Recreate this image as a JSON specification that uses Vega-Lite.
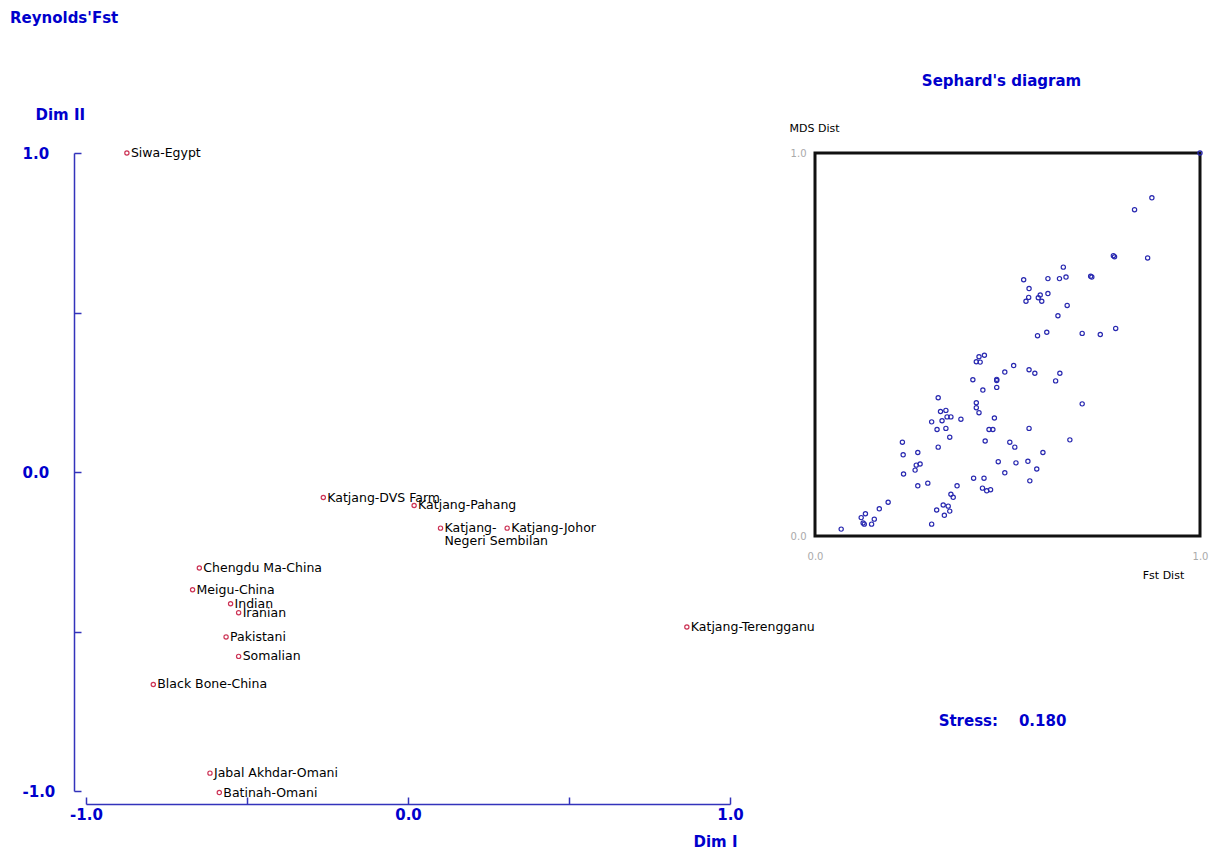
{
  "$schema": "https://vega.github.io/schema/vega-lite/v6.json",
  "background": "white",
  "padding": {"left": 10, "top": 10, "right": 0, "bottom": 0},
  "title": {
    "text": "Reynolds'Fst",
    "anchor": "start",
    "dx": -12,
    "offset": 47,
    "font": "DejaVu Sans",
    "fontSize": 15,
    "fontWeight": "bold",
    "color": "#0000CC"
  },
  "bounds": "flush",
  "spacing": 85,
  "config": {"view": {"stroke": null}},
  "hconcat": [
    {
      "width": 644,
      "height": 638,
      "data": {
        "values": [
          {"pop": "Siwa-Egypt", "dim1": -0.873, "dim2": 1.0},
          {"pop": "Katjang-DVS Farm", "dim1": -0.263, "dim2": -0.080},
          {"pop": "Katjang-Pahang", "dim1": 0.019, "dim2": -0.105},
          {"pop": "Katjang-\nNegeri Sembilan", "dim1": 0.101, "dim2": -0.176},
          {"pop": "Katjang-Johor", "dim1": 0.308, "dim2": -0.176},
          {"pop": "Katjang-Terengganu", "dim1": 0.866, "dim2": -0.486},
          {"pop": "Chengdu Ma-China", "dim1": -0.648, "dim2": -0.301},
          {"pop": "Meigu-China", "dim1": -0.669, "dim2": -0.369},
          {"pop": "Indian", "dim1": -0.551, "dim2": -0.413},
          {"pop": "Iranian", "dim1": -0.526, "dim2": -0.441},
          {"pop": "Pakistani", "dim1": -0.565, "dim2": -0.517},
          {"pop": "Somalian", "dim1": -0.526, "dim2": -0.578},
          {"pop": "Black Bone-China", "dim1": -0.791, "dim2": -0.666},
          {"pop": "Jabal Akhdar-Omani", "dim1": -0.615, "dim2": -0.944},
          {"pop": "Batinah-Omani", "dim1": -0.586, "dim2": -1.005}
        ]
      },
      "encoding": {
        "x": {
          "field": "dim1",
          "type": "quantitative",
          "scale": {"domain": [-1, 1], "nice": false, "zero": false},
          "axis": {
            "values": [-1, -0.5, 0, 0.5, 1],
            "labelExpr": "datum.value == 1 ? '1.0' : datum.value == 0 ? '0.0' : datum.value == -1 ? '-1.0' : ''",
            "grid": false,
            "offset": 13,
            "tickSize": -7,
            "tickWidth": 1.5,
            "tickColor": "#3333BB",
            "domainColor": "#3333BB",
            "domainWidth": 1.5,
            "labelFlush": false,
            "labelOverlap": false,
            "labelFont": "DejaVu Sans",
            "labelFontSize": 15,
            "labelFontWeight": "bold",
            "labelColor": "#0000CC",
            "labelBaseline": "top",
            "labelPadding": 10,
            "title": "Dim I",
            "titleX": 629,
            "titleY": 37,
            "titleAlign": "center",
            "titleBaseline": "middle",
            "titleFont": "DejaVu Sans",
            "titleFontSize": 15,
            "titleFontWeight": "bold",
            "titleColor": "#0000CC"
          }
        },
        "y": {
          "field": "dim2",
          "type": "quantitative",
          "scale": {"domain": [-1, 1], "nice": false, "zero": false},
          "axis": {
            "values": [-1, -0.5, 0, 0.5, 1],
            "labelExpr": "datum.value == 1 ? '1.0' : datum.value == 0 ? '0.0' : datum.value == -1 ? '-1.0' : ''",
            "grid": false,
            "offset": 12,
            "tickSize": -7,
            "tickWidth": 1.5,
            "tickColor": "#3333BB",
            "domainColor": "#3333BB",
            "domainWidth": 1.5,
            "labelFlush": false,
            "labelOverlap": false,
            "labelFont": "DejaVu Sans",
            "labelFontSize": 15,
            "labelFontWeight": "bold",
            "labelColor": "#0000CC",
            "labelAlign": "left",
            "labelBaseline": "middle",
            "labelPadding": 59,
            "title": "Dim II",
            "titleAngle": 0,
            "titleX": -39,
            "titleY": -39,
            "titleAlign": "left",
            "titleBaseline": "middle",
            "titleFont": "DejaVu Sans",
            "titleFontSize": 15,
            "titleFontWeight": "bold",
            "titleColor": "#0000CC"
          }
        }
      },
      "layer": [
        {
          "mark": {"type": "point", "shape": "circle", "filled": false, "color": "#CC3355", "size": 18, "strokeWidth": 1.2, "opacity": 1}
        },
        {
          "mark": {"type": "text", "align": "left", "baseline": "middle", "dx": 4, "font": "DejaVu Sans", "fontSize": 12.5, "color": "black", "lineBreak": "\n", "lineHeight": 13},
          "encoding": {"text": {"field": "pop"}}
        }
      ]
    },
    {
      "width": 385,
      "height": 383,
      "view": {"stroke": "#111111", "strokeWidth": 3},
      "title": {
        "text": "Sephard's diagram",
        "frame": "group",
        "anchor": "middle",
        "dx": -6,
        "offset": 33,
        "font": "DejaVu Sans",
        "fontSize": 15,
        "fontWeight": "bold",
        "color": "#0000CC"
      },
      "layer": [
        {
          "data": {
            "values": [
              {"fst": 0.875, "mds": 0.883}, {"fst": 0.830, "mds": 0.852}, {"fst": 0.775, "mds": 0.732},
              {"fst": 0.778, "mds": 0.729}, {"fst": 0.864, "mds": 0.726}, {"fst": 0.645, "mds": 0.702},
              {"fst": 0.542, "mds": 0.669}, {"fst": 0.605, "mds": 0.672}, {"fst": 0.635, "mds": 0.672},
              {"fst": 0.652, "mds": 0.676}, {"fst": 0.716, "mds": 0.678}, {"fst": 0.719, "mds": 0.676},
              {"fst": 0.556, "mds": 0.646}, {"fst": 0.555, "mds": 0.623}, {"fst": 0.548, "mds": 0.613},
              {"fst": 0.580, "mds": 0.622}, {"fst": 0.585, "mds": 0.629}, {"fst": 0.589, "mds": 0.613},
              {"fst": 0.605, "mds": 0.633}, {"fst": 0.655, "mds": 0.602}, {"fst": 0.631, "mds": 0.575},
              {"fst": 0.578, "mds": 0.523}, {"fst": 0.602, "mds": 0.532}, {"fst": 0.694, "mds": 0.529},
              {"fst": 0.741, "mds": 0.526}, {"fst": 0.781, "mds": 0.542}, {"fst": 1.0, "mds": 1.0},
              {"fst": 0.440, "mds": 0.472}, {"fst": 0.426, "mds": 0.468}, {"fst": 0.419, "mds": 0.455},
              {"fst": 0.429, "mds": 0.454}, {"fst": 0.516, "mds": 0.445}, {"fst": 0.556, "mds": 0.434},
              {"fst": 0.571, "mds": 0.425}, {"fst": 0.636, "mds": 0.425}, {"fst": 0.493, "mds": 0.428},
              {"fst": 0.410, "mds": 0.408}, {"fst": 0.472, "mds": 0.409}, {"fst": 0.472, "mds": 0.406},
              {"fst": 0.625, "mds": 0.405}, {"fst": 0.472, "mds": 0.388}, {"fst": 0.436, "mds": 0.381},
              {"fst": 0.694, "mds": 0.345}, {"fst": 0.320, "mds": 0.361}, {"fst": 0.419, "mds": 0.348},
              {"fst": 0.419, "mds": 0.335}, {"fst": 0.426, "mds": 0.322}, {"fst": 0.326, "mds": 0.325},
              {"fst": 0.340, "mds": 0.328}, {"fst": 0.343, "mds": 0.311}, {"fst": 0.353, "mds": 0.311},
              {"fst": 0.330, "mds": 0.301}, {"fst": 0.303, "mds": 0.298}, {"fst": 0.379, "mds": 0.305},
              {"fst": 0.466, "mds": 0.308}, {"fst": 0.317, "mds": 0.278}, {"fst": 0.340, "mds": 0.281},
              {"fst": 0.452, "mds": 0.278}, {"fst": 0.462, "mds": 0.278}, {"fst": 0.556, "mds": 0.281},
              {"fst": 0.350, "mds": 0.258}, {"fst": 0.442, "mds": 0.248}, {"fst": 0.506, "mds": 0.245},
              {"fst": 0.519, "mds": 0.232}, {"fst": 0.662, "mds": 0.251}, {"fst": 0.227, "mds": 0.245},
              {"fst": 0.320, "mds": 0.232}, {"fst": 0.229, "mds": 0.212}, {"fst": 0.267, "mds": 0.218},
              {"fst": 0.592, "mds": 0.218},
              {"fst": 0.263, "mds": 0.185}, {"fst": 0.273, "mds": 0.188}, {"fst": 0.260, "mds": 0.172},
              {"fst": 0.230, "mds": 0.162}, {"fst": 0.267, "mds": 0.131}, {"fst": 0.293, "mds": 0.138},
              {"fst": 0.369, "mds": 0.131}, {"fst": 0.476, "mds": 0.194}, {"fst": 0.522, "mds": 0.191},
              {"fst": 0.553, "mds": 0.195}, {"fst": 0.493, "mds": 0.165}, {"fst": 0.576, "mds": 0.175},
              {"fst": 0.558, "mds": 0.144}, {"fst": 0.412, "mds": 0.151}, {"fst": 0.439, "mds": 0.151},
              {"fst": 0.435, "mds": 0.125}, {"fst": 0.446, "mds": 0.118}, {"fst": 0.456, "mds": 0.121},
              {"fst": 0.353, "mds": 0.109}, {"fst": 0.359, "mds": 0.101}, {"fst": 0.190, "mds": 0.088},
              {"fst": 0.167, "mds": 0.071}, {"fst": 0.333, "mds": 0.081}, {"fst": 0.346, "mds": 0.078},
              {"fst": 0.316, "mds": 0.068}, {"fst": 0.350, "mds": 0.065}, {"fst": 0.336, "mds": 0.054},
              {"fst": 0.303, "mds": 0.031}, {"fst": 0.131, "mds": 0.058}, {"fst": 0.120, "mds": 0.048},
              {"fst": 0.154, "mds": 0.044}, {"fst": 0.125, "mds": 0.034}, {"fst": 0.128, "mds": 0.031},
              {"fst": 0.147, "mds": 0.031}, {"fst": 0.068, "mds": 0.018}
            ]
          },
          "mark": {"type": "point", "shape": "circle", "filled": false, "color": "#2828B0", "size": 18, "strokeWidth": 1.2, "opacity": 1},
          "encoding": {
            "x": {
              "field": "fst",
              "type": "quantitative",
              "scale": {"domain": [0, 1], "nice": false, "zero": false},
              "axis": {
                "values": [0, 1],
                "format": ".1f",
                "grid": false,
                "domain": false,
                "ticks": false,
                "labelFlush": false,
                "labelOverlap": false,
                "labelFont": "DejaVu Sans",
                "labelFontSize": 10,
                "labelColor": "#AAAAAA",
                "labelBaseline": "middle",
                "labelPadding": 20,
                "title": "Fst Dist",
                "titleX": 348,
                "titleY": 39,
                "titleAlign": "center",
                "titleBaseline": "middle",
                "titleFont": "DejaVu Sans",
                "titleFontSize": 11,
                "titleFontWeight": "normal",
                "titleColor": "black"
              }
            },
            "y": {
              "field": "mds",
              "type": "quantitative",
              "scale": {"domain": [0, 1], "nice": false, "zero": false},
              "axis": {
                "values": [0, 1],
                "format": ".1f",
                "grid": false,
                "domain": false,
                "ticks": false,
                "labelFlush": false,
                "labelOverlap": false,
                "labelFont": "DejaVu Sans",
                "labelFontSize": 10,
                "labelColor": "#AAAAAA",
                "labelBaseline": "middle",
                "labelPadding": 9,
                "title": "MDS Dist",
                "titleAngle": 0,
                "titleX": -26,
                "titleY": -25,
                "titleAlign": "left",
                "titleBaseline": "middle",
                "titleFont": "DejaVu Sans",
                "titleFontSize": 11,
                "titleFontWeight": "normal",
                "titleColor": "black"
              }
            }
          }
        },
        {
          "data": {"values": [{"label": "Stress:\u00a0\u00a0\u00a0\u00a00.180"}]},
          "mark": {"type": "text", "align": "center", "baseline": "middle", "font": "DejaVu Sans", "fontSize": 15, "fontWeight": "bold", "color": "#0000CC"},
          "encoding": {
            "text": {"field": "label"},
            "x": {"datum": 0.487, "type": "quantitative"},
            "y": {"datum": -0.482, "type": "quantitative"}
          }
        }
      ]
    }
  ]
}
